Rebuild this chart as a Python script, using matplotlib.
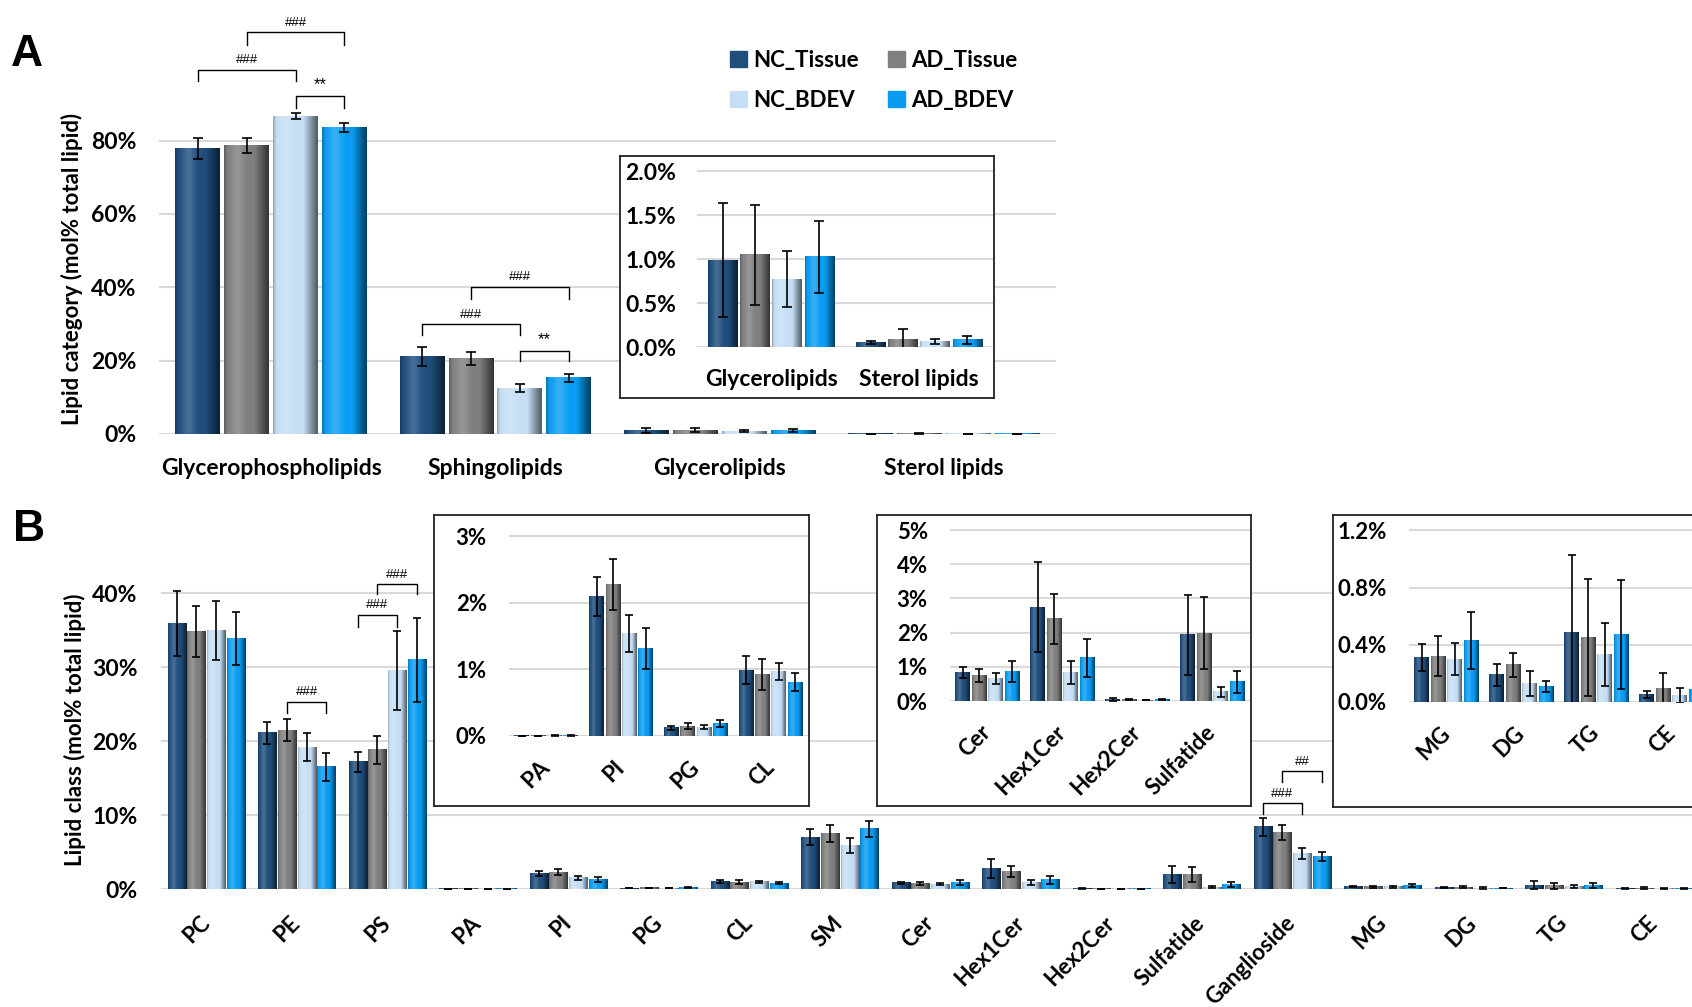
import numpy as np
import matplotlib
matplotlib.use('Agg')
import matplotlib.pyplot as plt
from matplotlib.patches import Rectangle
from matplotlib.ticker import FuncFormatter, MultipleLocator
from matplotlib.colors import to_rgb

plt.rcParams['font.family'] = ['Lato', 'DejaVu Sans']
plt.rcParams['font.weight'] = 'bold'
plt.rcParams['axes.labelweight'] = 'bold'

SERIES = ['NC_Tissue', 'AD_Tissue', 'NC_BDEV', 'AD_BDEV']
COLORS = ['#1f4e7d', '#7f7f7f', '#c5def5', '#0a9cf2']

# ---------------- Panel A data (mol% total lipid) ----------------
A_categories = ['Glycerophospholipids', 'Sphingolipids', 'Glycerolipids', 'Sterol lipids']
A_NC_Tissue = [77.8, 21.1, 0.99, 0.05]
A_AD_Tissue = [78.6, 20.6, 1.05, 0.08]
A_NC_BDEV = [86.7, 12.5, 0.77, 0.06]
A_AD_BDEV = [83.5, 15.3, 1.03, 0.08]
A_NC_Tissue_err = [2.9, 2.6, 0.65, 0.02]
A_AD_Tissue_err = [2.0, 1.9, 0.57, 0.13]
A_NC_BDEV_err = [0.8, 1.1, 0.32, 0.03]
A_AD_BDEV_err = [1.2, 1.0, 0.41, 0.05]
A_inset_categories = ['Glycerolipids', 'Sterol lipids']

# ---------------- Panel B data (mol% total lipid) ----------------
B_categories = ['PC', 'PE', 'PS', 'PA', 'PI', 'PG', 'CL', 'SM', 'Cer', 'Hex1Cer',
                'Hex2Cer', 'Sulfatide', 'Ganglioside', 'MG', 'DG', 'TG', 'CE']
B_NC_Tissue = [35.9, 21.1, 17.2, 0.003, 2.10, 0.125, 0.99, 7.0, 0.84, 2.75, 0.05, 1.94, 8.4, 0.31, 0.19, 0.485, 0.053]
B_AD_Tissue = [34.8, 21.5, 18.8, 0.003, 2.28, 0.15, 0.92, 7.5, 0.75, 2.40, 0.04, 1.98, 7.6, 0.32, 0.26, 0.45, 0.093]
B_NC_BDEV = [34.9, 19.2, 29.5, 0.006, 1.54, 0.135, 0.97, 5.86, 0.66, 0.83, 0.02, 0.27, 4.8, 0.30, 0.13, 0.33, 0.046]
B_AD_BDEV = [33.9, 16.5, 31.0, 0.010, 1.31, 0.185, 0.81, 8.15, 0.87, 1.26, 0.04, 0.56, 4.44, 0.43, 0.11, 0.47, 0.09]
B_NC_Tissue_err = [4.4, 1.5, 1.35, 0.002, 0.29, 0.03, 0.21, 1.06, 0.165, 1.33, 0.05, 1.17, 1.25, 0.095, 0.075, 0.54, 0.027]
B_AD_Tissue_err = [3.4, 1.45, 1.85, 0.002, 0.38, 0.04, 0.23, 1.2, 0.2, 0.73, 0.01, 1.05, 1.0, 0.14, 0.085, 0.41, 0.11]
B_NC_BDEV_err = [4.0, 1.85, 5.35, 0.003, 0.28, 0.025, 0.13, 1.0, 0.15, 0.33, 0.005, 0.15, 0.8, 0.11, 0.085, 0.22, 0.05]
B_AD_BDEV_err = [3.6, 1.95, 5.65, 0.005, 0.31, 0.05, 0.14, 1.1, 0.3, 0.55, 0.01, 0.32, 0.6, 0.2, 0.04, 0.38, 0.04]
B_inset1 = ['PA', 'PI', 'PG', 'CL']
B_inset2 = ['Cer', 'Hex1Cer', 'Hex2Cer', 'Sulfatide']
B_inset3 = ['MG', 'DG', 'TG', 'CE']

# significance brackets: (category, series i, series j, leg y, top y, label)
A_brackets = [(0, 0, 2, 96.3, 99.3, '###'), (0, 1, 3, 106.1, 109.5, '###'),
              (0, 2, 3, 89.0, 92.3, '**'), (1, 0, 2, 27.0, 30.0, '###'),
              (1, 1, 3, 36.8, 40.1, '###'), (1, 2, 3, 20.0, 22.7, '**')]
B_brackets = [(1, 1, 3, 23.8, 25.3, '###'), (2, 0, 2, 35.4, 37.1, '###'),
              (2, 1, 3, 39.9, 41.2, '###'), (12, 0, 2, 10.1, 11.6, '###'),
              (12, 1, 3, 14.5, 15.9, '##')]

W, H = 1692, 1007
fig = plt.figure(figsize=(W / 100, H / 100), dpi=100)


def px_axes(x0, y0, x1, y1):
    return fig.add_axes([x0 / W, 1 - y1 / H, (x1 - x0) / W, (y1 - y0) / H])


BAR_W = 0.2
STEP = 0.218


def shade(ax, bars, color):
    base = np.array(to_rgb(color))
    t = np.linspace(0, 1, 80)
    fac = np.ones_like(t)
    fac[t < 0.07] = 0.75 + 3.5 * t[t < 0.07]
    r = t > 0.68
    fac[r] = 1 - (t[r] - 0.68) / 0.32 * 0.6
    hl = 0.18 * np.exp(-((t - 0.3) / 0.14) ** 2)
    rgb = base[None, :] * fac[:, None]
    rgb = rgb + (1 - rgb) * hl[:, None]
    img = np.clip(rgb, 0, 1)[None, :, :]
    for b in bars:
        x0, y0 = b.get_x(), b.get_y()
        w, h = b.get_width(), b.get_height()
        if h <= 0:
            continue
        ax.imshow(img, extent=(x0, x0 + w, y0, y0 + h), aspect='auto',
                  interpolation='bilinear', zorder=2.5)


def draw_group(ax, means, errs, cap=3.5, elw=1.2):
    n = len(means[0])
    x = np.arange(n)
    for k in range(4):
        xs = x + (k - 1.5) * STEP
        bars = ax.bar(xs, means[k], BAR_W, color=COLORS[k], linewidth=0, zorder=2,
                      label=SERIES[k])
        shade(ax, bars, COLORS[k])
        ax.errorbar(xs, means[k], yerr=errs[k], fmt='none', ecolor='black',
                    elinewidth=elw, capsize=cap, capthick=elw, zorder=4)
    ax.set_xlim(-0.5, n - 0.5)


def style(ax, ylim, major, fmt, fs, pad):
    ax.set_ylim(*ylim)
    ax.yaxis.set_major_locator(MultipleLocator(major))
    ax.yaxis.set_major_formatter(FuncFormatter(fmt))
    ax.grid(axis='y', color='#d9d9d9', lw=1.5, zorder=0)
    ax.set_axisbelow(True)
    for s in ax.spines.values():
        s.set_visible(False)
    ax.tick_params(axis='y', length=0, labelsize=fs, pad=pad)
    ax.tick_params(axis='x', length=0)
    for lab in ax.get_yticklabels():
        lab.set_fontweight('bold')
    ax.patch.set_alpha(0)


def frame(x0, y0, x1, y1):
    f = px_axes(x0, y0, x1, y1)
    f.set_xticks([])
    f.set_yticks([])
    for s in f.spines.values():
        s.set_color('#222222')
        s.set_linewidth(1.3)
    f.set_facecolor('white')
    return f


def brackets(ax, specs, fs_hash=9.5, fs_star=12):
    for cat, i, j, yl, yt, lab in specs:
        x1 = cat + (i - 1.5) * STEP
        x2 = cat + (j - 1.5) * STEP
        ax.plot([x1, x1, x2, x2], [yl, yt, yt, yl], color='black', lw=1.0,
                clip_on=False, zorder=5)
        fs = fs_star if '*' in lab else fs_hash
        ax.annotate(lab, xy=((x1 + x2) / 2, yt), xytext=(0, 2.5), textcoords='offset points',
                    ha='center', va='bottom', fontsize=fs, fontweight='normal',
                    family=['Liberation Sans', 'DejaVu Sans'], annotation_clip=False)


pct0 = lambda v, p: f'{v:.0f}%'
pct1 = lambda v, p: f'{v:.1f}%'

# ---------------- Panel A ----------------
axA = px_axes(159, 104, 1056, 434)
draw_group(axA, [A_NC_Tissue, A_AD_Tissue, A_NC_BDEV, A_AD_BDEV],
           [A_NC_Tissue_err, A_AD_Tissue_err, A_NC_BDEV_err, A_AD_BDEV_err])
style(axA, (0, 90), 20, pct0, 16.5, 16)
axA.set_xticks(range(len(A_categories)))
axA.set_xticklabels(A_categories, fontsize=16.5, fontweight='bold')
axA.tick_params(axis='x', pad=17)
axA.set_ylabel('Lipid category (mol% total lipid)', fontsize=16, labelpad=6)
brackets(axA, A_brackets)

frame(620, 156, 994, 398)
axAi = px_axes(697, 167, 993, 347)
nA = len(A_categories) - len(A_inset_categories)
draw_group(axAi, [A_NC_Tissue[nA:], A_AD_Tissue[nA:], A_NC_BDEV[nA:], A_AD_BDEV[nA:]],
           [A_NC_Tissue_err[nA:], A_AD_Tissue_err[nA:], A_NC_BDEV_err[nA:], A_AD_BDEV_err[nA:]])
style(axAi, (0, 2.05), 0.5, pct1, 16.5, 15)
axAi.set_xticks(range(len(A_inset_categories)))
axAi.set_xticklabels(A_inset_categories, fontsize=16.5, fontweight='bold')
axAi.tick_params(axis='x', pad=16)

# ---------------- Panel B ----------------
axB = px_axes(161, 571, 161 + 17 * 90.5, 889)
draw_group(axB, [B_NC_Tissue, B_AD_Tissue, B_NC_BDEV, B_AD_BDEV],
           [B_NC_Tissue_err, B_AD_Tissue_err, B_NC_BDEV_err, B_AD_BDEV_err], cap=3)
style(axB, (0, 43), 10, pct0, 16.5, 17)
axB.set_xticks(range(len(B_categories)))
axB.set_xticklabels(B_categories, fontsize=16, fontweight='bold', rotation=45, ha='right',
                    va='center', rotation_mode='anchor')
axB.tick_params(axis='x', pad=22)
axB.set_ylabel('Lipid class (mol% total lipid)', fontsize=16, labelpad=4)
brackets(axB, B_brackets)


def inset(box, axbox, names, ylim, major, fmt):
    frame(*box)
    ax = px_axes(*axbox)
    idx = [B_categories.index(n) for n in names]
    means = [[s[i] for i in idx] for s in (B_NC_Tissue, B_AD_Tissue, B_NC_BDEV, B_AD_BDEV)]
    errs = [[s[i] for i in idx] for s in (B_NC_Tissue_err, B_AD_Tissue_err, B_NC_BDEV_err, B_AD_BDEV_err)]
    draw_group(ax, means, errs, cap=3)
    style(ax, ylim, major, fmt, 16, 16)
    ax.set_xticks(range(len(names)))
    ax.set_xticklabels(names, fontsize=16, fontweight='bold', rotation=45, ha='right',
                       va='center', rotation_mode='anchor')
    ax.tick_params(axis='x', pad=20)
    return ax


inset((434, 515, 809, 806), (509, 531, 808, 736), B_inset1, (0, 3.08), 1, pct0)
inset((877, 515, 1251, 806), (950, 526, 1250, 701), B_inset2, (0, 5.12), 1, pct0)
inset((1333, 515, 1713, 807), (1409, 526, 1709, 702), B_inset3, (0, 1.23), 0.4, pct1)

# ---------------- Legend & panel letters ----------------
handles = [Rectangle((0, 0), 1, 1, color=c) for c in COLORS]
order = [0, 2, 1, 3]
fig.legend([handles[i] for i in order], [SERIES[i] for i in order], ncol=2,
           loc='upper left', bbox_to_anchor=(710 / W, 1 - 30 / H), frameon=False,
           prop={'size': 16, 'weight': 'bold'}, handlelength=0.75, handleheight=0.75,
           handletextpad=0.3, columnspacing=1.3, labelspacing=0.85)

fig.text(11 / W, 1 - 66 / H, 'A', fontsize=32, fontweight='bold',
         family=['Liberation Sans', 'DejaVu Sans'], va='baseline')
fig.text(13 / W, 1 - 541 / H, 'B', fontsize=32, fontweight='bold',
         family=['Liberation Sans', 'DejaVu Sans'], va='baseline')

fig.savefig('out.png', dpi=100)
